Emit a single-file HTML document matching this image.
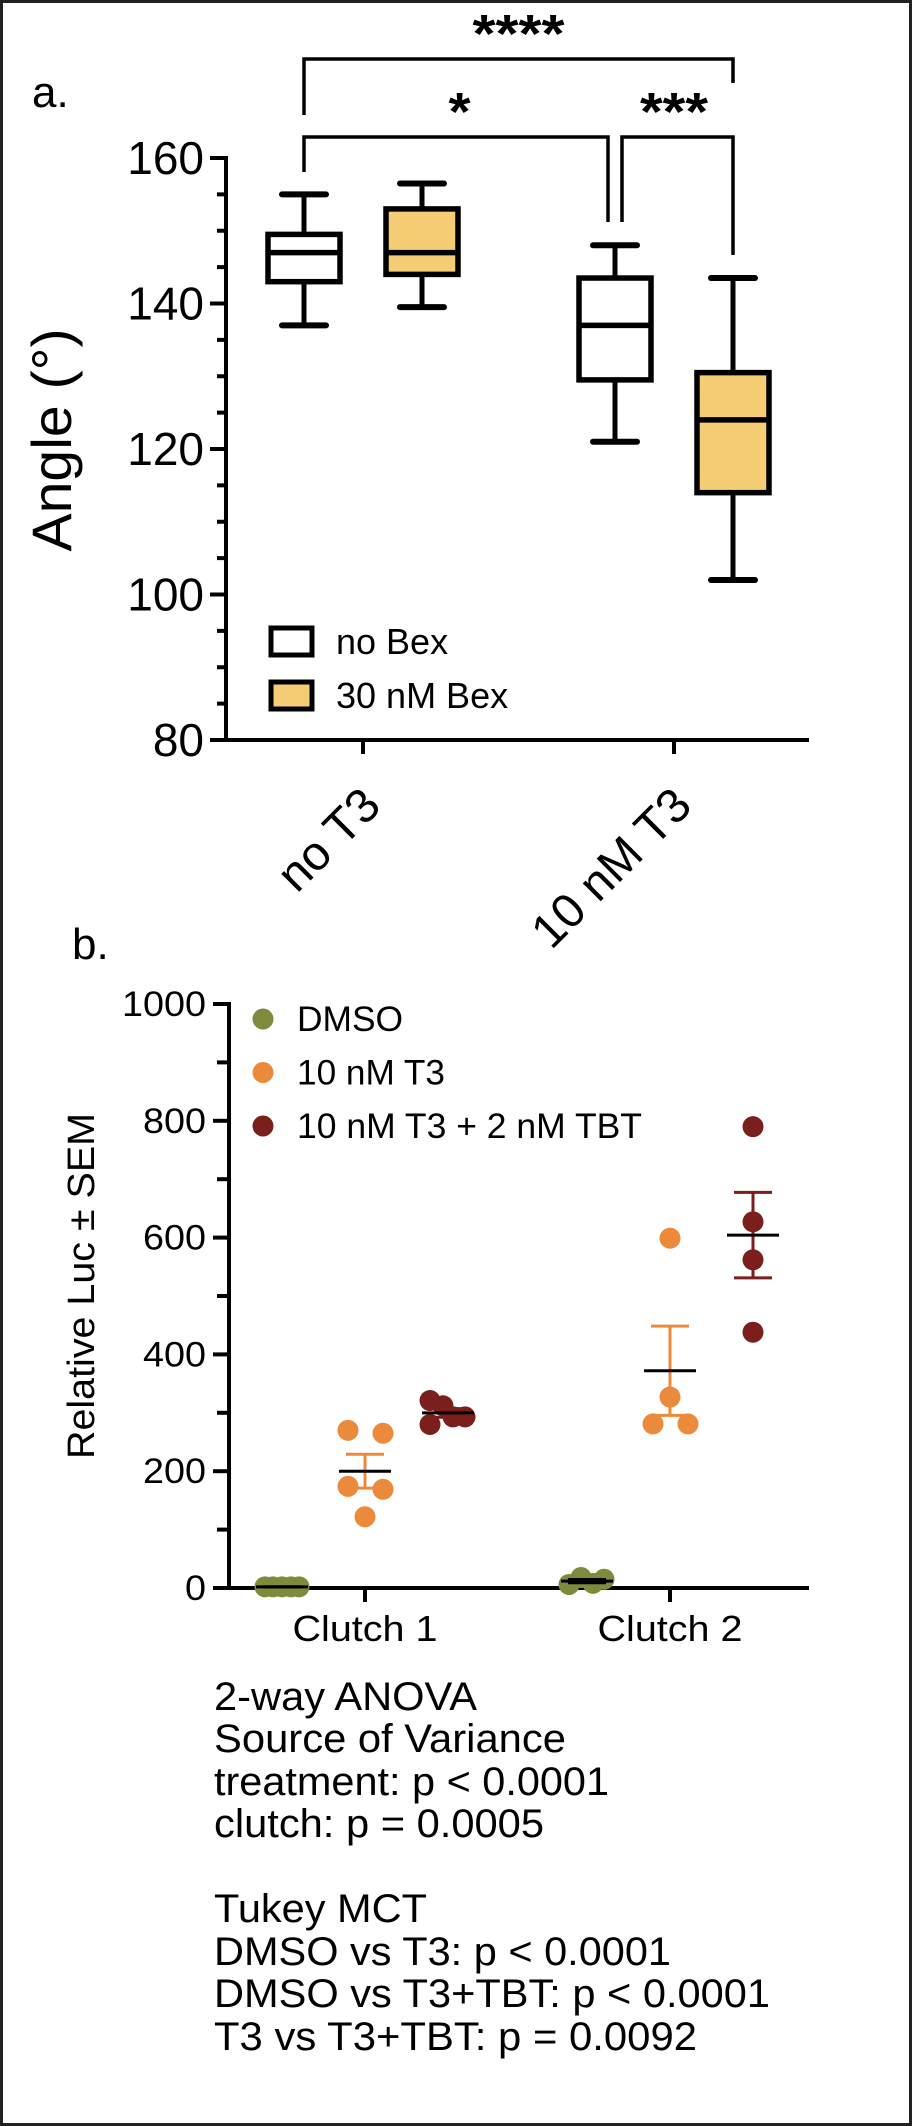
<!DOCTYPE html>
<html><head><meta charset="utf-8"><style>
html,body{margin:0;padding:0;background:#fff}
svg{display:block}
text{font-family:"Liberation Sans",Arial,sans-serif;fill:#000}
</style></head><body>
<svg id="fig" width="912" height="2126" viewBox="0 0 912 2126" xmlns="http://www.w3.org/2000/svg">
<rect x="1.5" y="1.5" width="909" height="2123" fill="#fff" stroke="#222" stroke-width="3"/>
<g id="chartA"></g>
<g id="chartB"></g>
<g font-size="40">
<text x="214" y="1710" textLength="263" lengthAdjust="spacingAndGlyphs">2-way ANOVA</text>
<text x="214" y="1752" textLength="352" lengthAdjust="spacingAndGlyphs">Source of Variance</text>
<text x="214" y="1795" textLength="395" lengthAdjust="spacingAndGlyphs">treatment: p &lt; 0.0001</text>
<text x="214" y="1837" textLength="330" lengthAdjust="spacingAndGlyphs">clutch: p = 0.0005</text>
<text x="214" y="1922" textLength="213" lengthAdjust="spacingAndGlyphs">Tukey MCT</text>
<text x="214" y="1965" textLength="457" lengthAdjust="spacingAndGlyphs">DMSO vs T3: p &lt; 0.0001</text>
<text x="214" y="2007" textLength="556" lengthAdjust="spacingAndGlyphs">DMSO vs T3+TBT: p &lt; 0.0001</text>
<text x="214" y="2050" textLength="483" lengthAdjust="spacingAndGlyphs">T3 vs T3+TBT: p = 0.0092</text>
</g>
</svg>
<script>
// ---------- Panel A data ----------
const aGroups = ["no T3", "10 nM T3"];
const aSeries = ["no Bex", "30 nM Bex"];
const aMin    = [137, 139.5, 121, 102];
const aQ1     = [143, 144, 129.5, 114];
const aMed    = [147, 147, 137, 124];
const aQ3     = [149.5, 153, 143.5, 130.5];
const aMax    = [155, 156.5, 148, 143.5];
const aTicks  = [80, 100, 120, 140, 160];
const aSig    = ["****", "*", "***"];

// ---------- Panel B data ----------
const bCategories = ["Clutch 1", "Clutch 2"];
const bSeries = ["DMSO", "10 nM T3", "10 nM T3 + 2 nM TBT"];
const dmsoC1 = [2, 2, 2, 2, 2];
const t3C1   = [270, 265, 174, 169, 122];
const tbtC1  = [321, 312, 280, 293, 293];
const dmsoC2 = [6, 18, 8, 15];
const t3C2   = [599, 327, 281, 281];
const tbtC2  = [790, 627, 562, 438];
const bTicks = [0, 200, 400, 600, 800, 1000];

const NS = "http://www.w3.org/2000/svg";
function mk(parent, tag, attrs) {
  const e = document.createElementNS(NS, tag);
  for (const k in attrs) e.setAttribute(k, attrs[k]);
  parent.appendChild(e);
  return e;
}

// ================= Panel A =================
(function () {
  const g = document.getElementById('chartA');
  const y = v => 158 + (160 - v) * (740 - 158) / 80;
  const groupX = i => 363 + i * 311;
  const boxX = (gi, si) => groupX(gi) + (si === 0 ? -59 : 59);
  const colors = ["#ffffff", "#f5cd74"];

  let t = mk(g, 'text', {x: 32, y: 107, 'font-size': 44});
  
  
  t.textContent = 'a.';

  let ax = mk(g, 'line', {x1: 226, y1: 156, x2: 226, y2: 740, stroke: '#000', 'stroke-width': 4});
  
  
  let xa = mk(g, 'line', {x1: 210, y1: 740, x2: 809, y2: 740, stroke: '#000', 'stroke-width': 4});
  
  
  for (let v = 80; v <= 160; v += 5) {
    const major = v % 20 === 0;
    const tk = mk(g, 'line', {x1: major ? 210 : 217, y1: y(v), x2: 226, y2: y(v), stroke: '#000', 'stroke-width': 4});
    
    
  }
  aTicks.forEach(v => {
    const tl = mk(g, 'text', {x: 204, y: y(v) + 16, 'font-size': 46, 'text-anchor': 'end'});
    
    
    tl.textContent = v;
  });
  const yt = mk(g, 'text', {x: 0, y: 0, 'font-size': 56, 'text-anchor': 'middle', transform: 'translate(71,440) rotate(-90)', textLength: 223, lengthAdjust: 'spacingAndGlyphs'});
  
  
  yt.textContent = 'Angle (°)';

  aGroups.forEach((name, gi) => {
    const tk = mk(g, 'line', {x1: groupX(gi), y1: 740, x2: groupX(gi), y2: 754, stroke: '#000', 'stroke-width': 4});
    
    
    const ex = groupX(gi) + 20, ey = 808;
    const tl = mk(g, 'text', {x: 0, y: 0, 'font-size': 48, 'text-anchor': 'end', transform: `translate(${ex},${ey}) rotate(-45)`});
    
    
    tl.textContent = name;
  });

  for (let gi = 0; gi < 2; gi++) for (let si = 0; si < 2; si++) {
    const i = gi * 2 + si, cx = boxX(gi, si), hw = 36;
    const bg = mk(g, 'g', {});
    
    
    mk(bg, 'line', {x1: cx, y1: y(aMax[i]), x2: cx, y2: y(aQ3[i]), stroke: '#000', 'stroke-width': 5});
    mk(bg, 'line', {x1: cx, y1: y(aMin[i]), x2: cx, y2: y(aQ1[i]), stroke: '#000', 'stroke-width': 5});
    mk(bg, 'line', {x1: cx - 22, y1: y(aMax[i]), x2: cx + 22, y2: y(aMax[i]), stroke: '#000', 'stroke-width': 6, 'stroke-linecap': 'round'});
    mk(bg, 'line', {x1: cx - 22, y1: y(aMin[i]), x2: cx + 22, y2: y(aMin[i]), stroke: '#000', 'stroke-width': 6, 'stroke-linecap': 'round'});
    mk(bg, 'rect', {x: cx - hw, y: y(aQ3[i]), width: hw * 2, height: y(aQ1[i]) - y(aQ3[i]), fill: colors[si], stroke: '#000', 'stroke-width': 5.5});
    mk(bg, 'line', {x1: cx - hw, y1: y(aMed[i]), x2: cx + hw, y2: y(aMed[i]), stroke: '#000', 'stroke-width': 5.5});
  }

  const b1 = boxX(0, 0), b3 = boxX(1, 0), b4 = boxX(1, 1);
  const br = mk(g, 'g', {fill: 'none', stroke: '#000', 'stroke-width': 3.5});
  
  
  mk(br, 'polyline', {points: `${b1},115 ${b1},59 ${b4},59 ${b4},83`});
  mk(br, 'polyline', {points: `${b1},172 ${b1},137 ${b3 - 7},137 ${b3 - 7},222`});
  mk(br, 'polyline', {points: `${b3 + 7},222 ${b3 + 7},137 ${b4},137 ${b4},255`});
  const sigPos = [[(b1 + b4) / 2, 52, 92], [(b1 + b3) / 2, 130, 22], [(b3 + b4) / 2, 130, 68]];
  aSig.forEach((s, k) => {
    const st = mk(g, 'text', {x: sigPos[k][0], y: sigPos[k][1], 'font-size': 54, 'font-weight': 'bold', 'text-anchor': 'middle', textLength: sigPos[k][2], lengthAdjust: 'spacingAndGlyphs'});
    
    
    st.textContent = s;
  });

  aSeries.forEach((s, si) => {
    const ly = 641 + si * 54;
    const lg = mk(g, 'g', {});
    
    
    mk(lg, 'rect', {x: 271, y: ly - 13, width: 41, height: 27, fill: colors[si], stroke: '#000', 'stroke-width': 5});
    const lt = mk(lg, 'text', {x: 336, y: ly + 13, 'font-size': 36});
    lt.textContent = s;
  });
})();

// ================= Panel B =================
(function () {
  const g = document.getElementById('chartB');
  const y = v => 1588 - v * (1588 - 1004) / 1000;
  const catX = i => 365 + i * 305;
  const offs = [-83, 0, 83];
  const colors = ["#7f8a3d", "#ec8a3c", "#7a1f1c"];
  const data = [[dmsoC1, t3C1, tbtC1], [dmsoC2, t3C2, tbtC2]];
  const jitter = [
    [[-17, -9, 0, 9, 17], [-17, 18, -17, 18, 0], [-18, -5, -18, 5, 17]],
    [[-18, -6, 6, 17], [0, 0, -17, 18], [0, 0, 0, 0]]
  ];

  let t = mk(g, 'text', {x: 72, y: 959, 'font-size': 44});
  
  
  t.textContent = 'b.';

  let ax = mk(g, 'line', {x1: 229, y1: 1002, x2: 229, y2: 1588, stroke: '#000', 'stroke-width': 4});
  
  
  let xa = mk(g, 'line', {x1: 213, y1: 1588, x2: 809, y2: 1588, stroke: '#000', 'stroke-width': 4});
  
  
  for (let v = 0; v <= 1000; v += 100) {
    const major = v % 200 === 0;
    const tk = mk(g, 'line', {x1: major ? 213 : 217, y1: y(v), x2: 229, y2: y(v), stroke: '#000', 'stroke-width': 4});
    
    
  }
  bTicks.forEach(v => {
    const w = String(v).length * 21;
    const tl = mk(g, 'text', {x: 206, y: y(v) + 12, 'font-size': 35, 'text-anchor': 'end', textLength: w, lengthAdjust: 'spacingAndGlyphs'});
    
    
    tl.textContent = v;
  });
  const yt = mk(g, 'text', {x: 0, y: 0, 'font-size': 38, 'text-anchor': 'middle', transform: 'translate(94,1286) rotate(-90)', textLength: 346, lengthAdjust: 'spacingAndGlyphs'});
  
  
  yt.textContent = 'Relative Luc ± SEM';

  bCategories.forEach((c, ci) => {
    const tk = mk(g, 'line', {x1: catX(ci), y1: 1588, x2: catX(ci), y2: 1602, stroke: '#000', 'stroke-width': 4});
    
    
    const tl = mk(g, 'text', {x: catX(ci), y: 1641, 'font-size': 36, 'text-anchor': 'middle', textLength: 145, lengthAdjust: 'spacingAndGlyphs'});
    
    
    tl.textContent = c;
  });

  data.forEach((cat, ci) => cat.forEach((vals, si) => {
    const cx = catX(ci) + offs[si];
    const grp = mk(g, 'g', {});
    
    
    vals.forEach((v, k) => {
      const c = mk(grp, 'circle', {cx: cx + jitter[ci][si][k], cy: y(v), r: 10.5, fill: colors[si]});
      
      
    });
    const n = vals.length;
    const mean = vals.reduce((a, b) => a + b, 0) / n;
    const sd = Math.sqrt(vals.reduce((a, b) => a + (b - mean) * (b - mean), 0) / (n - 1));
    const sem = sd / Math.sqrt(n);
    const eb = mk(grp, 'g', {stroke: si === 0 ? '#000' : colors[si], 'stroke-width': 3});
    
    
    mk(eb, 'line', {x1: cx, y1: y(mean + sem), x2: cx, y2: y(mean - sem)});
    mk(eb, 'line', {x1: cx - 19, y1: y(mean + sem), x2: cx + 19, y2: y(mean + sem)});
    mk(eb, 'line', {x1: cx - 19, y1: y(mean - sem), x2: cx + 19, y2: y(mean - sem)});
    const ml = mk(grp, 'line', {x1: cx - 26, y1: y(mean), x2: cx + 26, y2: y(mean), stroke: '#000', 'stroke-width': 3});
    
    
  }));

  const lw = [106, 148, 345];
  bSeries.forEach((s, si) => {
    const ly = 1019 + si * 53.5;
    const lg = mk(g, 'g', {});
    
    
    mk(lg, 'circle', {cx: 263, cy: ly, r: 10.5, fill: colors[si]});
    const lt = mk(lg, 'text', {x: 297, y: ly + 12, 'font-size': 35, textLength: lw[si], lengthAdjust: 'spacingAndGlyphs'});
    lt.textContent = s;
  });
})();
</script>
</body></html>
